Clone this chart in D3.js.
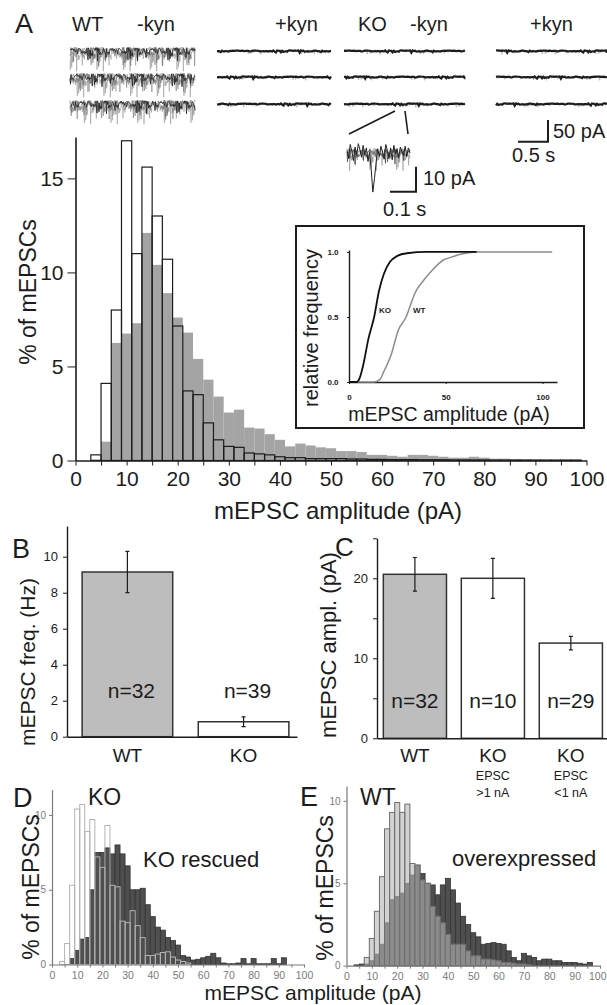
<!DOCTYPE html>
<html>
<head>
<meta charset="utf-8">
<script src="https://cdn.jsdelivr.net/npm/d3@7"></script>
<style>
  body { margin: 0; background: #fff; }
  svg { display: block; font-family: "Liberation Sans", Arial, Helvetica, sans-serif; }
</style>
</head>
<body>
<script>
/* ---------------------------------- data ---------------------------------- */
// histogram bins are 2 pA wide, centred on even amplitudes
const binCenters = d3.range(4, 100, 2);

// panel A: % of mEPSCs per bin
const mainKO = [0.3, 4.1, 8.0, 17.0, 11.0, 15.6, 13.0, 10.7, 7.15, 3.7, 3.5, 2.0, 1.1, 0.75, 0.7, 0.4,
  0.35, 0.3, 0.2, 0.15, 0.15, 0.1, 0.1, 0.1, 0.1, 0.08, 0.08, 0.06, 0.06, 0.05, 0.05, 0.05,
  0.04, 0.04, 0.04, 0.03, 0.03, 0.03, 0.03, 0.02, 0.02, 0.02, 0.02, 0.02, 0.02, 0.02, 0.02, 0.02];
const mainWT = [0.05, 1.0, 6.25, 6.75, 7.3, 12.1, 10.4, 8.9, 7.6, 6.8, 5.4, 4.3, 3.4, 2.55, 2.7, 1.75,
  1.7, 1.4, 1.1, 0.75, 0.9, 0.8, 0.7, 0.65, 0.5, 0.5, 0.45, 0.3, 0.3, 0.25, 0.2, 0.3,
  0.3, 0.25, 0.2, 0.15, 0.15, 0.2, 0.15, 0.1, 0.1, 0.08, 0.07, 0.06, 0.05, 0.05, 0.05, 0.04];

// inset: cumulative distributions (amplitude pA, relative frequency)
const koCdfAmp = [0, 4, 5.5, 7.5, 10, 13, 15.5, 18, 21, 25, 30, 40, 66];
const koCdfFrac = [0, 0, 0.03, 0.14, 0.33, 0.5, 0.7, 0.83, 0.92, 0.97, 0.99, 1, 1];
const wtCdfAmp = [0, 13, 16, 18, 22, 25.5, 29.5, 31.5, 34, 38.5, 43, 49, 53, 57, 66, 105];
const wtCdfFrac = [0, 0, 0.02, 0.08, 0.22, 0.4, 0.5, 0.58, 0.68, 0.78, 0.86, 0.94, 0.96, 0.98, 1, 1];

// panel B: mEPSC frequency (Hz)
const bCats = ["WT", "KO"];
const bMean = [9.15, 0.83];
const bErr = [1.15, 0.27];
const bN = ["n=32", "n=39"];

// panel C: mEPSC amplitude (pA)
const cCats = ["WT", "KO1", "KO2"];
const cLabels = ["WT", "KO", "KO"];
const cSub = [[], ["EPSC", ">1 nA"], ["EPSC", "<1 nA"]];
const cMean = [20.5, 20.0, 11.9];
const cErr = [2.1, 2.5, 0.85];
const cN = ["n=32", "n=10", "n=29"];

// panel D: KO vs KO rescued
const dKO = [0.2, 1.4, 5.3, 10.4, 10.7, 8.9, 9.7, 7.2, 6.5, 9.3, 5.3, 5.2, 2.9, 2.8, 3.6, 2.6,
  1.8, 0.6, 0.6, 0.7, 0.8, 0.85, 0.5, 0.3, 0.2, 0.1, 0, 0, 0, 0, 0, 0,
  0, 0, 0, 0, 0, 0, 0, 0, 0, 0, 0, 0, 0, 0, 0, 0];
const dRescued = [0, 0, 0.4, 0.95, 1.7, 1.8, 5.0, 7.5, 7.5, 7.8, 7.4, 8.0, 7.4, 6.6, 5.0, 5.0,
  5.1, 4.0, 3.2, 2.5, 2.3, 1.8, 1.6, 1.3, 0.6, 0.5, 0.3, 0.35, 0.45, 0.55, 0.75, 0.45,
  0.1, 0.05, 0.05, 0.1, 0.4, 0.05, 0.4, 0.05, 0.05, 0.05, 0.4, 0.05, 0.45, 0, 0, 0];

// panel E: WT vs overexpressed
const eWT = [0, 0, 0.5, 1.65, 3.3, 5.4, 8.3, 9.3, 9.9, 9.3, 9.8, 6.2, 6.1, 5.2, 5.0, 3.6,
  3.0, 2.6, 1.9, 1.3, 1.3, 1.3, 0.9, 0.6, 0.6, 0.4, 0.4, 0.35, 0.3, 0.2, 0.2, 0.15,
  0.1, 0.1, 0.05, 0, 0, 0, 0, 0, 0, 0, 0, 0, 0, 0, 0, 0];
const eOver = [0.05, 0.1, 0.1, 0.3, 0.7, 1.3, 2.6, 4.0, 4.2, 4.4, 5.0, 5.5, 6.1, 5.6, 5.0, 4.9,
  4.3, 4.9, 5.3, 4.6, 3.8, 3.0, 2.5, 2.0, 1.75, 1.3, 1.35, 1.4, 1.35, 1.3, 0.9, 0.5,
  0.3, 0.75, 0.6, 0.5, 0.3, 0.4, 0.4, 0.3, 0.3, 0.2, 0.2, 0.2, 0.15, 0.1, 0.2, 0];

// example current traces (sample values, arbitrary units)
const traceSeq = [0.2, -0.5, 0.8, -0.3, 0.1, -1.2, 0.6, 0.3, -0.7, 0.9, -0.2, 0.4, -2.6, -1.1, 0.5, -0.4,
  0.7, -0.6, 0.2, 0.9, -0.8, 0.3, -0.1, 0.6, -1.9, -0.9, 0.4, -0.3, 0.8, -0.5, 0.1, 0.7,
  -0.4, 0.3, -1.0, 0.5, -0.2, 0.9, -0.6, 0.2, -2.2, -0.8, 0.6, -0.1, 0.4, -0.7, 0.8, 0.2,
  -0.5, 0.1, -0.9, 0.6, -0.3, 0.7, -1.5, -0.6, 0.3, -0.2, 0.9, -0.4, 0.5, -0.8, 0.2, 0.6,
  -0.3, -2.8, -1.0, 0.4, -0.5, 0.7, 0.1, -0.6, 0.8, -0.2, 0.3, -1.3, 0.5, -0.4, 0.9, -0.1];
const koEventSeq = [0.3, -0.6, 1.0, 0.2, -0.9, 0.7, -0.3, 1.1, 0.4, -0.5, 0.9, -0.2, 0.6, -1.0, 0.1, -2.0,
  -4.6, -3.0, -1.2, 0.5, -0.4, 0.8, 0.1, -0.7, 1.0, 0.3, -0.5, 0.6, -0.8, 0.9, -0.1, 0.5,
  -0.6, 0.7, 0.2, -0.3, 0.8, -0.4, 0.6, 0.0];

/* ------------------------------- main svg -------------------------------- */
const width = 607, height = 1005;
const ink = "#1c1c1c";

const svg = d3.select("body").append("svg")
    .attr("width", width)
    .attr("height", height);

function label(g, x, y, s, size, o = {}) {
  const t = g.append("text")
      .attr("x", x).attr("y", y)
      .attr("font-size", size)
      .attr("fill", o.fill || ink)
      .attr("text-anchor", o.anchor || "start")
      .text(s);
  if (o.bold) t.attr("font-weight", "bold");
  if (o.rotate) t.attr("transform", "rotate(-90," + x + "," + y + ")");
  return t;
}

function styleAxis(sel, size, color, domainWidth) {
  sel.attr("font-size", size).attr("font-family", null);
  sel.selectAll("path, line").attr("stroke", color);
  sel.select(".domain").attr("stroke-width", domainWidth || 1);
  sel.selectAll("text").attr("fill", color);
}

function histBars(g, x, y, vals) {
  return g.append("g").selectAll("rect")
    .data(vals.map((v, i) => ({ c: binCenters[i], v: v })).filter(d => d.v > 0))
    .join("rect")
      .attr("x", d => x(d.c - 1))
      .attr("width", d => x(d.c + 1) - x(d.c - 1))
      .attr("y", d => y(d.v))
      .attr("height", d => y(0) - y(d.v));
}

/* ------------------------------ panel A traces ---------------------------- */
const gT = svg.append("g");
label(gT, 15, 33, "A", 27);
label(gT, 72, 31, "WT", 20);
label(gT, 137, 31, "-kyn", 20);
label(gT, 275, 31, "+kyn", 20);
label(gT, 358, 31, "KO", 20);
label(gT, 410, 31, "-kyn", 20);
label(gT, 530, 31, "+kyn", 20);

const traceLine = d3.line().x(d => d[0]).y(d => d[1]);
function drawTrace(x0, x1, yc, amp, perPx, offset, stroke, sw, op) {
  const n = Math.round((x1 - x0) * perPx);
  const pts = d3.range(n + 1).map(i => [
    x0 + (x1 - x0) * i / n,
    yc - traceSeq[(i * 7 + offset) % traceSeq.length] * amp
  ]);
  gT.append("path").attr("d", traceLine(pts))
    .attr("fill", "none").attr("stroke", stroke).attr("stroke-width", sw)
    .attr("stroke-opacity", op || 1);
}

const rows = [51, 77, 104];
rows.forEach((r, k) => {
  // WT -kyn: noisy with many events
  drawTrace(70, 195, r + 2, 6.5, 3, k * 13 + 5, "#8a8a8a", 0.6, 0.8);
  drawTrace(70, 195, r + 1, 5, 2.5, k * 29 + 41, "#666", 0.6, 0.8);
  drawTrace(70, 195, r, 3.5, 2, k * 17, "#222", 0.8);
  // +kyn and KO traces: quiet baselines
  [[217, 331, 3], [344, 465, 7], [496, 607, 2]].forEach(([a, b, o]) => {
    drawTrace(a, b, r, 1.2, 1.5, k * 11 + o, "#999", 0.7, 0.8);
    drawTrace(a, b, r, 0.6, 0.8, k * 19 + o, "#1c1c1c", 2.2);
  });
});

// magnified KO event
gT.append("line").attr("x1", 349).attr("y1", 134).attr("x2", 395).attr("y2", 111)
  .attr("stroke", ink).attr("stroke-width", 1.6);
gT.append("line").attr("x1", 405).attr("y1", 111).attr("x2", 408).attr("y2", 134)
  .attr("stroke", ink).attr("stroke-width", 1.6);
drawTrace(347, 410, 154, 6, 3, 9, "#8a8a8a", 0.6, 0.9);
drawTrace(347, 410, 153, 4, 2, 33, "#444", 0.7);
const evX = d3.scaleLinear().domain([0, koEventSeq.length - 1]).range([347, 410]);
gT.append("path")
  .attr("d", d3.line().x((d, i) => evX(i)).y(d => 153 - d * 8.5)(koEventSeq))
  .attr("fill", "none").attr("stroke", "#222").attr("stroke-width", 1);

// scale bars
gT.append("path").attr("d", "M518,141.7H548V120").attr("fill", "none").attr("stroke", ink).attr("stroke-width", 2);
label(gT, 553, 138, "50 pA", 20);
label(gT, 512, 162, "0.5 s", 20);
gT.append("path").attr("d", "M390,191.7H416V166.7").attr("fill", "none").attr("stroke", ink).attr("stroke-width", 2);
label(gT, 423, 185, "10 pA", 20);
label(gT, 383, 216, "0.1 s", 20);

/* ---------------------------- panel A histogram --------------------------- */
const xA = d3.scaleLinear().domain([0, 100]).range([75.5, 586.5]);
const yA = d3.scaleLinear().domain([0, 17.2]).range([460.5, 137]);
const gA = svg.append("g");

histBars(gA, xA, yA, mainWT).attr("fill", "#a4a4a4");
histBars(gA, xA, yA, mainKO).attr("fill", "none").attr("stroke", ink).attr("stroke-width", 1.2);

gA.append("g").attr("transform", "translate(0," + yA(0) + ")")
  .call(d3.axisBottom(xA).tickValues(d3.range(0, 101, 5))
    .tickFormat(d => d % 10 === 0 ? d : "").tickSize(5).tickPadding(6).tickSizeOuter(0))
  .call(s => styleAxis(s, 21, ink, 1.6));
gA.append("g").attr("transform", "translate(" + xA(0) + ",0)")
  .call(d3.axisLeft(yA).tickValues([0, 5, 10, 15]).tickSize(8).tickPadding(4).tickSizeOuter(0))
  .call(s => styleAxis(s, 21, ink, 1.6));
label(gA, 338, 519, "mEPSC amplitude (pA)", 24, { anchor: "middle" });
label(gA, 36, 292, "% of mEPSCs", 23, { anchor: "middle", rotate: true });

/* ------------------------------- inset (CDF) ------------------------------ */
const gI = svg.append("g");
gI.append("rect").attr("x", 296).attr("y", 226).attr("width", 288).attr("height", 202)
  .attr("fill", "#fff").attr("stroke", ink).attr("stroke-width", 2);
const xI = d3.scaleLinear().domain([0, 107.5]).range([349, 557]);
const yI = d3.scaleLinear().domain([0, 1.015]).range([382, 250]);

gI.append("g").attr("transform", "translate(0," + yI(0) + ")")
  .call(d3.axisBottom(xI).tickValues([0, 50, 100]).tickSize(2).tickPadding(10).tickSizeOuter(0))
  .call(s => styleAxis(s, 8, ink, 1.4))
  .call(s => s.selectAll("text").attr("font-weight", "bold"));
gI.append("g").attr("transform", "translate(" + xI(0) + ",0)")
  .call(d3.axisLeft(yI).tickValues([0, 0.5, 1]).tickSize(2).tickPadding(14).tickSizeOuter(0))
  .call(s => styleAxis(s, 8, ink, 1.4))
  .call(s => s.selectAll("text").attr("font-weight", "bold").attr("text-anchor", "middle"));

const cdfLine = d3.line().curve(d3.curveMonotoneX).x(d => xI(d[0])).y(d => yI(d[1]));
gI.append("path").attr("d", cdfLine(wtCdfAmp.map((a, i) => [a, wtCdfFrac[i]])))
  .attr("fill", "none").attr("stroke", "#8c8c8c").attr("stroke-width", 1.5);
gI.append("path").attr("d", cdfLine(koCdfAmp.map((a, i) => [a, koCdfFrac[i]])))
  .attr("fill", "none").attr("stroke", "#111").attr("stroke-width", 1.8);
label(gI, 379, 313, "KO", 8, { bold: true });
label(gI, 413, 313, "WT", 8, { bold: true });
label(gI, 449, 421, "mEPSC amplitude (pA)", 19.5, { anchor: "middle" });
label(gI, 318, 328, "relative frequency", 20, { anchor: "middle", rotate: true });

/* --------------------------------- panel B -------------------------------- */
const gB = svg.append("g");
const xB = d3.scaleBand().domain(bCats).range([67, 297]).paddingInner(0.22).paddingOuter(0.1).align(0.65);
const yB = d3.scaleLinear().domain([0, 11.7]).range([736.7, 526.1]);

gB.selectAll("rect").data(bCats).join("rect")
  .attr("x", d => xB(d)).attr("width", xB.bandwidth())
  .attr("y", (d, i) => yB(bMean[i])).attr("height", (d, i) => yB(0) - yB(bMean[i]))
  .attr("fill", (d, i) => i === 0 ? "#bdbdbd" : "#fff")
  .attr("stroke", "#333").attr("stroke-width", 1.5);
bCats.forEach((c, i) => {
  const cx = xB(c) + xB.bandwidth() / 2;
  gB.append("path")
    .attr("d", "M" + (cx - 2) + "," + yB(bMean[i] + bErr[i]) + "h4M" + cx + "," + yB(bMean[i] + bErr[i]) +
      "V" + yB(bMean[i] - bErr[i]) + "M" + (cx - 2) + "," + yB(bMean[i] - bErr[i]) + "h4")
    .attr("stroke", ink).attr("stroke-width", 1.2).attr("fill", "none");
  label(gB, cx + 4, 698, bN[i], 21, { anchor: "middle" });
});
gB.append("g").attr("transform", "translate(0," + yB(0) + ")")
  .call(d3.axisBottom(xB).tickSize(0).tickPadding(12).tickSizeOuter(0))
  .call(s => styleAxis(s, 19, ink, 1.4));
gB.append("g").attr("transform", "translate(67,0)")
  .call(d3.axisLeft(yB).tickValues([0, 2, 4, 6, 8, 10]).tickSize(4).tickPadding(5).tickSizeOuter(0))
  .call(s => styleAxis(s, 13, ink, 1.4));
label(gB, 12, 558, "B", 27);
label(gB, 35, 662, "mEPSC freq. (Hz)", 21, { anchor: "middle", rotate: true });

/* --------------------------------- panel C -------------------------------- */
const gC = svg.append("g");
const xC = d3.scaleBand().domain(cCats).range([377, 607]).paddingInner(0.19).paddingOuter(0.07).align(0.58);
const yC = d3.scaleLinear().domain([0, 25]).range([738.3, 538.3]);

gC.selectAll("rect").data(cCats).join("rect")
  .attr("x", d => xC(d)).attr("width", xC.bandwidth())
  .attr("y", (d, i) => yC(cMean[i])).attr("height", (d, i) => yC(0) - yC(cMean[i]))
  .attr("fill", (d, i) => i === 0 ? "#bdbdbd" : "#fff")
  .attr("stroke", "#333").attr("stroke-width", 1.5);
cCats.forEach((c, i) => {
  const cx = xC(c) + xC.bandwidth() / 2;
  gC.append("path")
    .attr("d", "M" + (cx - 2) + "," + yC(cMean[i] + cErr[i]) + "h4M" + cx + "," + yC(cMean[i] + cErr[i]) +
      "V" + yC(cMean[i] - cErr[i]) + "M" + (cx - 2) + "," + yC(cMean[i] - cErr[i]) + "h4")
    .attr("stroke", ink).attr("stroke-width", 1.2).attr("fill", "none");
  label(gC, cx, 708, cN[i], 21, { anchor: "middle" });
  label(gC, cx, 762, cLabels[i], 19, { anchor: "middle" });
  cSub[i].forEach((s, k) => label(gC, cx, 780 + k * 17, s, 12.5, { anchor: "middle" }));
});
gC.append("g").attr("transform", "translate(0," + yC(0) + ")")
  .call(d3.axisBottom(xC).tickSize(0).tickFormat("").tickSizeOuter(0))
  .call(s => styleAxis(s, 19, ink, 1.4));
gC.append("g").attr("transform", "translate(377,0)")
  .call(d3.axisLeft(yC).tickValues([0, 5, 10, 15, 20, 25]).tickFormat(d => d % 10 === 0 ? d : "")
    .tickSize(4).tickPadding(5).tickSizeOuter(0))
  .call(s => styleAxis(s, 13, ink, 1.4));
label(gC, 336, 645, "mEPSC ampl. (pA)", 22, { anchor: "middle", rotate: true });
label(gC, 335, 556, "C", 26);

/* ------------------------------- panels D, E ------------------------------ */
function smallAxes(g, x, y, x0) {
  g.append("g").attr("transform", "translate(0," + y(0) + ")")
    .call(d3.axisBottom(x).tickValues(d3.range(0, 101, 5)).tickFormat(d => d % 10 === 0 ? d : "")
      .tickSize(3).tickPadding(4).tickSizeOuter(0))
    .call(s => styleAxis(s, 10.5, "#7a7a7a", 1.2));
  g.append("g").attr("transform", "translate(" + x0 + ",0)")
    .call(d3.axisLeft(y).tickValues([0, 5, 10]).tickSize(3).tickPadding(3).tickSizeOuter(0))
    .call(s => styleAxis(s, 10, "#7a7a7a", 1.2));
}

const gD = svg.append("g");
const xD = d3.scaleLinear().domain([0, 100]).range([52, 304]);
const yD = d3.scaleLinear().domain([0, 11.7]).range([964.5, 789.6]);
histBars(gD, xD, yD, dRescued).attr("fill", "#4f4f4f").attr("stroke", "#333").attr("stroke-width", 0.8);
histBars(gD, xD, yD, dKO).attr("fill", "none").attr("stroke", "#b3b3b3").attr("stroke-width", 1);
smallAxes(gD, xD, yD, 52);
label(gD, 13, 807, "D", 27);
label(gD, 88, 805, "KO", 23);
label(gD, 143, 867, "KO rescued", 22);
label(gD, 39, 887, "% of mEPSCs", 23, { anchor: "middle", rotate: true });

const gE = svg.append("g");
const xE = d3.scaleLinear().domain([0, 100]).range([346.5, 600]);
const yE = d3.scaleLinear().domain([0, 10.9]).range([965.7, 786]);
histBars(gE, xE, yE, eOver).attr("fill", "#4f4f4f").attr("stroke", "#333").attr("stroke-width", 0.8);
histBars(gE, xE, yE, eWT).attr("fill", "#b4b4b4").attr("fill-opacity", 0.6)
  .attr("stroke", "#6e6e6e").attr("stroke-width", 1);
smallAxes(gE, xE, yE, 346.5);
// last tick label sits at the page edge: keep it inside
gE.selectAll(".tick text").filter(d => d === 100).attr("text-anchor", "end").attr("dx", 6);
label(gE, 300, 806, "E", 27);
label(gE, 360, 805, "WT", 23);
label(gE, 452, 866, "overexpressed", 22);
label(gE, 333, 888, "% of mEPSCs", 23, { anchor: "middle", rotate: true });

label(svg, 313, 1000, "mEPSC amplitude (pA)", 21, { anchor: "middle" });
</script>
</body>
</html>
